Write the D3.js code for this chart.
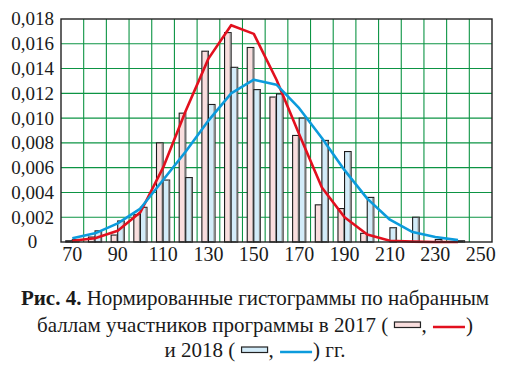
<!DOCTYPE html>
<html>
<head>
<meta charset="utf-8">
<script src="https://cdn.jsdelivr.net/npm/d3@7"></script>
<style>
  body { margin: 0; background: #fff; }
  svg { display: block; }
  text { font-family: "Liberation Serif", "DejaVu Serif", serif; fill: #1a1a1a; }
</style>
</head>
<body>
<svg width="509" height="368"></svg>
<script>
// bin centres (score)
var bins = [70, 80, 90, 100, 110, 120, 130, 140, 150, 160, 170, 180, 190, 200, 210, 220, 230, 240];

// normalised histogram, 2017 (pink bars)
var hist2017 = [0.0001, 0.0004, 0.00056, 0.0022, 0.0080, 0.0104, 0.0154, 0.0169, 0.0157, 0.0117, 0.0086, 0.0030, 0.0027, 0.0007, 0, 0, 0, 0];
// normalised histogram, 2018 (blue bars)
var hist2018 = [0.0002, 0.0009, 0.0017, 0.0028, 0.0050, 0.0052, 0.0111, 0.0141, 0.0123, 0.01195, 0.0100, 0.0082, 0.0073, 0.0036, 0.00115, 0.0020, 0.0002, 0.0001];

// fitted curves
var fit2017 = [0.0001, 0.0003, 0.0009, 0.0024, 0.0060, 0.0106, 0.0148, 0.0175, 0.0168, 0.0131, 0.0087, 0.0044, 0.0020, 0.0006, 0.0001, 0.00003, 0, 0];
var fit2018 = [0.0003, 0.0007, 0.0015, 0.0027, 0.0050, 0.0073, 0.0098, 0.0120, 0.0131, 0.0127, 0.0108, 0.0084, 0.0058, 0.0035, 0.0018, 0.0008, 0.0004, 0.00015];

var xTicks = [70, 90, 110, 130, 150, 170, 190, 210, 230, 250];
var yTicks = [0, 0.002, 0.004, 0.006, 0.008, 0.010, 0.012, 0.014, 0.016, 0.018];

var m = {left: 61, right: 492, top: 19, bottom: 242};

var x = d3.scaleLinear().domain([65, 255]).range([m.left, m.right]);
var y = d3.scaleLinear().domain([0, 0.018]).range([m.bottom, m.top]);

var pink = "#f9dede", blue = "#d3ecf9", red = "#e2101e", cyan = "#0c9bdc", green = "#0d9444";

var svg = d3.select("svg");

// grid
var gridX = d3.range(75, 255, 10);
svg.append("g").selectAll("line")
  .data(gridX)
  .enter().append("line")
  .attr("x1", function(d) { return x(d); })
  .attr("x2", function(d) { return x(d); })
  .attr("y1", m.top).attr("y2", m.bottom)
  .attr("stroke", green).attr("stroke-width", 1.1);

svg.append("g").selectAll("line")
  .data(yTicks.slice(1, -1))
  .enter().append("line")
  .attr("x1", m.left).attr("x2", m.right)
  .attr("y1", function(d) { return y(d); })
  .attr("y2", function(d) { return y(d); })
  .attr("stroke", green).attr("stroke-width", 1.1);

// bars
function drawBars(vals, fill, from, to) {
  var g = svg.append("g");
  var data = bins.map(function(b, i) { return {bin: b, v: vals[i]}; }).filter(function(d) { return d.v > 0; });
  g.selectAll("rect")
    .data(data)
    .enter().append("rect")
    .attr("x", function(d) { return x(d.bin + from); })
    .attr("width", function(d) { return x(d.bin + to) - x(d.bin + from); })
    .attr("y", function(d) { return y(d.v); })
    .attr("height", function(d) { return y(0) - y(d.v); })
    .attr("fill", fill)
    .attr("stroke", "#1c1c1c")
    .attr("stroke-width", 1.1);
  g.selectAll("line")
    .data(data)
    .enter().append("line")
    .attr("x1", function(d) { return x(d.bin + to) - 0.8; })
    .attr("x2", function(d) { return x(d.bin + to) - 0.8; })
    .attr("y1", function(d) { return y(d.v) + 0.5; })
    .attr("y2", y(0))
    .attr("stroke", "#8a8a8a")
    .attr("stroke-width", 1.4);
}
drawBars(hist2017, pink, -2.9, 0);
drawBars(hist2018, blue, 0, 2.9);

// fitted lines
var line = d3.line()
  .x(function(d) { return x(d[0]); })
  .y(function(d) { return y(d[1]); });

svg.append("path")
  .attr("d", line(d3.zip(bins, fit2017)))
  .attr("fill", "none").attr("stroke", red).attr("stroke-width", 2.6)
  .attr("stroke-linejoin", "round");
svg.append("path")
  .attr("d", line(d3.zip(bins, fit2018)))
  .attr("fill", "none").attr("stroke", cyan).attr("stroke-width", 2.6)
  .attr("stroke-linejoin", "round");

// frame
svg.append("rect")
  .attr("x", m.left).attr("y", m.top)
  .attr("width", m.right - m.left).attr("height", m.bottom - m.top)
  .attr("fill", "none").attr("stroke", "#222").attr("stroke-width", 1.4);

// axis labels
svg.append("g").selectAll("text")
  .data(yTicks)
  .enter().append("text")
  .attr("x", 32.5)
  .attr("y", function(d) { return y(d); })
  .attr("dy", "0.34em")
  .attr("text-anchor", "middle")
  .style("font-size", "19px")
  .text(function(d) { return d === 0 ? "0" : d3.format(".3f")(d).replace(".", ","); });

svg.append("g").selectAll("text")
  .data(xTicks)
  .enter().append("text")
  .attr("x", function(d) { return x(d); })
  .attr("y", 261)
  .attr("text-anchor", "middle")
  .style("font-size", "20px")
  .text(function(d) { return d; });

// caption
var capSize = 21;
function captionLine(baseY, parts) {
  var g = svg.append("g");
  var cx = 0;
  parts.forEach(function(p) {
    if (p.text !== undefined) {
      var t = g.append("text")
        .attr("x", cx).attr("y", baseY)
        .style("font-size", capSize + "px")
        .style("font-weight", p.bold ? "bold" : "normal")
        .attr("xml:space", "preserve")
        .text(p.text);
      cx += t.node().getComputedTextLength();
    } else if (p.rect) {
      g.append("rect")
        .attr("x", cx + 1).attr("y", baseY - 10)
        .attr("width", 26).attr("height", 5.5)
        .attr("fill", p.rect).attr("stroke", "#222").attr("stroke-width", 1.2);
      cx += 28;
    } else if (p.line) {
      g.append("line")
        .attr("x1", cx + 1).attr("x2", cx + 33)
        .attr("y1", baseY - 5).attr("y2", baseY - 5)
        .attr("stroke", p.line).attr("stroke-width", 2.6);
      cx += 34;
    }
  });
  g.attr("transform", "translate(" + (255 - cx / 2) + ",0)");
}

captionLine(305, [
  {text: "Рис. 4.", bold: true},
  {text: " Нормированные гистограммы по набранным"}
]);
captionLine(332, [
  {text: "баллам участников программы в 2017 ( "},
  {rect: pink},
  {text: ", "},
  {line: red},
  {text: ")"}
]);
captionLine(357, [
  {text: "и 2018 ( "},
  {rect: blue},
  {text: ", "},
  {line: cyan},
  {text: ") гг."}
]);
</script>
</body>
</html>
